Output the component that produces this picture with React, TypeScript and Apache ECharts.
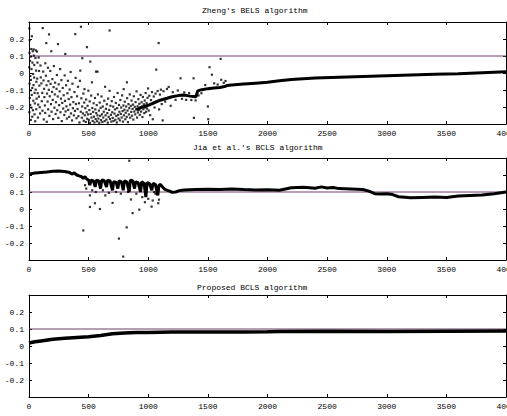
import React, { useEffect, useRef } from "react";
import * as echarts from "echarts";

const xTicks = [0, 500, 1000, 1500, 2000, 2500, 3000, 3500, 4000];
const yTickLabels = ["-0.2", "-0.1", "0", "0.1", "0.2"];
const titles = ["Zheng's BELS algorithm", "Jia et al.'s BCLS algorithm", "Proposed BCLS algorithm"];
const refLevel = 0.1;

// Panel 1: Zheng's BELS scattered estimates
const zhengScatter: number[][] = [
  [3,0.262],[6,0.193],[4,0.118],[9,0.071],[2,0.034],[11,-0.018],[5,-0.063],[13,-0.102],[7,-0.147],[10,-0.188],[3,-0.231],[15,-0.276],[19,0.141],[17,0.097],[21,0.023],[16,-0.041],[23,-0.129],[20,-0.204],[27,-0.257],[24,0.216],[31,0.128],[29,0.061],[34,-0.006],[28,-0.088],[36,-0.163],[33,-0.219],[41,0.102],[39,0.139],[44,0.047],[43,-0.027],[47,-0.117],[38,-0.071],[49,-0.179],[46,-0.243],[52,-0.284],[57,0.133],[54,0.088],[59,0.014],[62,-0.052],[56,-0.098],[64,-0.151],[61,-0.213],[67,0.126],[71,0.061],[69,-0.033],[73,-0.119],[77,-0.186],[75,-0.262],[81,0.091],[84,0.012],[87,-0.074],[83,-0.139],[90,-0.201],[93,-0.238],[96,0.044],[99,-0.026],
  [104,-0.061],[107,-0.166],[111,-0.117],[115,0.264],[113,-0.222],[119,0.008],[122,-0.044],[126,-0.093],[124,-0.273],[129,-0.142],[133,-0.191],[137,0.057],[136,-0.235],[142,-0.016],[145,0.176],[147,-0.072],[151,-0.121],[149,-0.287],[156,-0.168],[159,0.031],[163,-0.048],[161,-0.214],[168,0.227],[166,-0.099],[171,-0.252],[174,-0.137],[178,0.012],[181,-0.064],[184,-0.183],[187,0.128],[189,-0.228],[193,-0.111],[196,-0.036],[199,-0.158],[202,-0.271],[206,-0.083],[209,0.041],[213,-0.204],[216,-0.126],[219,-0.057],[223,-0.241],[226,-0.172],[231,-0.093],[234,-0.012],[237,-0.219],[243,0.17],[241,-0.138],[246,-0.264],[249,-0.067],
  [253,-0.189],[257,-0.108],[261,0.023],[264,-0.231],[268,-0.151],[272,-0.042],[275,-0.283],[279,-0.176],[283,-0.088],[287,-0.209],[291,-0.131],[296,-0.247],[299,-0.014],[304,0.112],[302,-0.164],[307,-0.226],[311,-0.072],[314,-0.196],[318,-0.268],[322,-0.119],[326,-0.046],[329,-0.217],[333,-0.153],[337,-0.258],[341,-0.097],[345,-0.186],[349,0.006],[352,-0.238],[356,-0.142],[361,-0.279],[364,-0.063],[368,-0.207],[372,-0.171],[376,-0.249],[381,-0.112],[388,0.229],[385,-0.223],[391,-0.029],[394,-0.183],[398,-0.266],[403,-0.137],[407,-0.212],[411,-0.081],[414,-0.254],[419,-0.178],[423,-0.291],[427,-0.046],[430,0.014],[436,0.272],[434,-0.228],[439,-0.149],[443,-0.263],[447,0.087],[446,-0.197],
  [452,-0.238],[456,-0.121],[459,-0.281],[463,-0.174],[465,-0.095],[468,-0.249],[472,-0.207],[476,-0.288],[479,-0.156],[483,-0.231],[486,0.152],[488,-0.269],[491,-0.193],[495,-0.244],[498,-0.104],[502,-0.276],[506,-0.218],[509,-0.167],[514,0.067],[512,-0.293],[517,-0.241],[521,-0.133],[524,-0.262],[528,-0.055],[531,-0.206],[534,-0.282],[538,-0.229],[542,-0.178],[545,-0.257],[549,-0.291],[553,-0.147],[556,-0.214],[562,0.008],[559,-0.271],[564,-0.236],[568,-0.189],[571,-0.284],[575,0.008],[574,-0.249],[578,-0.126],[582,-0.268],[586,-0.221],[589,-0.293],[593,-0.174],[597,-0.252],[601,-0.205],[604,-0.277],[608,-0.138],[612,-0.243],[615,-0.289],[619,-0.197],[623,-0.262],[627,-0.228],[631,-0.163],[634,-0.283],[638,-0.081],[642,-0.249],[645,-0.211],[649,-0.274],[653,-0.184],[657,-0.236],[661,-0.292],[664,-0.151],[668,-0.258],[676,0.25],[672,-0.217],[676,-0.105],[679,-0.271],[683,-0.193],[687,-0.246],[691,-0.286],[694,-0.166],[698,-0.231],
  [702,-0.264],[706,-0.198],[709,-0.282],[713,-0.141],[717,-0.239],[721,-0.214],[724,-0.275],[728,-0.176],[732,-0.253],[736,-0.291],[739,-0.207],[743,-0.118],[747,-0.246],[751,-0.268],[755,-0.188],[758,-0.228],[762,-0.279],[766,-0.159],[770,-0.241],[773,-0.203],[777,-0.262],[781,-0.132],[785,-0.224],[788,-0.286],[794,-0.095],[792,-0.191],[796,-0.249],[800,-0.216],[803,-0.169],[807,-0.272],[811,-0.234],[815,-0.197],[821,-0.055],[819,-0.258],[823,-0.148],[826,-0.221],[830,-0.289],[834,-0.183],[838,-0.244],[841,-0.207],[845,-0.126],[849,-0.263],[853,-0.193],[857,-0.229],[860,-0.162],[864,-0.251],[868,-0.211],[872,-0.186],[875,-0.274],[879,-0.137],[883,-0.227],[887,-0.199],[891,-0.243],[894,-0.171],[898,-0.214],[902,-0.108],[906,-0.262],[910,-0.196],[913,-0.232],[917,-0.154],[921,-0.218],[925,-0.181],[929,-0.246],[932,-0.206],[936,-0.129],[940,-0.227],[944,-0.172],[948,-0.199],[951,-0.259],[955,-0.141],[959,-0.213],[963,-0.184],[967,-0.236],[970,-0.162],[974,-0.203],[978,-0.118],[982,-0.228],[986,-0.177],[990,-0.209],[994,-0.146],[998,-0.091],
  [1004,-0.221],[1009,-0.134],[1016,-0.248],[1023,-0.159],[1031,-0.112],[1038,-0.272],[1046,-0.138],[1053,-0.203],[1061,-0.121],[1067,0.02],[1072,-0.166],[1079,-0.106],[1087,0.176],[1091,-0.214],[1098,-0.127],[1106,-0.098],[1113,-0.183],[1121,-0.279],[1128,-0.107],[1142,-0.168],[1157,-0.094],[1171,-0.082],[1188,-0.193],[1206,-0.113],[1229,-0.158],[1248,-0.103],[1271,-0.031],[1283,-0.152],[1302,-0.114],[1318,-0.158],[1343,-0.118],[1361,-0.159],[1380,-0.031],[1383,-0.264],[1397,-0.161],[1422,-0.132],[1446,-0.119],[1478,-0.071],[1500,-0.197],[1503,-0.272],[1514,0.034],[1534,-0.01],[1553,-0.061],[1582,-0.068],[1607,0.083],[1612,-0.04],[1633,-0.058],[1648,-0.047]
];
// Panel 1: converged track
const zhengTrack: number[][] = [
  [900,-0.215],[950,-0.2],[1000,-0.19],[1050,-0.175],[1100,-0.16],[1150,-0.15],[1200,-0.14],[1250,-0.133],[1300,-0.13],[1350,-0.136],[1400,-0.14],[1415,-0.105],[1450,-0.098],[1500,-0.092],[1550,-0.088],[1600,-0.085],[1640,-0.08],[1660,-0.074],[1700,-0.07],[1800,-0.065],[1900,-0.06],[2000,-0.055],[2100,-0.046],[2200,-0.038],[2300,-0.034],[2400,-0.03],[2600,-0.025],[2800,-0.02],[3000,-0.016],[3200,-0.012],[3400,-0.008],[3600,-0.004],[3800,0.002],[4000,0.008]
];

// Panel 2: Jia et al.'s BCLS
const jiaTrack: number[][] = [
  [0,0.205],[50,0.212],[100,0.215],[150,0.218],[200,0.222],[250,0.224],[300,0.22],[340,0.215],[360,0.205],[380,0.212],[400,0.2],[420,0.195],[440,0.19],[455,0.18],[470,0.19],[485,0.175],[500,0.17],[510,0.14],[520,0.17],[540,0.165],[555,0.13],[565,0.17],[585,0.165],[600,0.12],[610,0.17],[630,0.168],[650,0.13],[660,0.17],[680,0.165],[700,0.11],[710,0.16],[730,0.158],[745,0.12],[755,0.165],[775,0.16],[790,0.11],[800,0.165],[820,0.16],[840,0.1],[850,0.17],[870,0.165],[885,0.12],[895,0.16],[915,0.155],[935,0.1],[945,0.16],[965,0.15],[980,0.07],[990,0.155],[1010,0.15],[1030,0.11],[1040,0.15],[1060,0.145],[1080,0.08],[1090,0.14],[1100,0.145],[1120,0.13],[1140,0.115],[1160,0.11],[1180,0.105],[1200,0.098],[1230,0.1],[1260,0.108],[1300,0.112],[1400,0.114],[1500,0.116],[1600,0.115],[1700,0.117],[1800,0.114],[1900,0.112],[2000,0.113],[2100,0.11],[2200,0.125],[2300,0.128],[2400,0.122],[2450,0.13],[2500,0.123],[2550,0.127],[2600,0.12],[2700,0.118],[2800,0.115],[2850,0.105],[2900,0.09],[2950,0.088],[3000,0.09],[3050,0.085],[3100,0.072],[3200,0.066],[3300,0.068],[3400,0.07],[3500,0.068],[3600,0.076],[3700,0.08],[3800,0.082],[3900,0.09],[4000,0.1]
];
const jiaScatter: number[][] = [
  [455,-0.126],[511,0.012],[553,0.034],[595,0.0],[640,0.08],[701,0.036],[754,-0.174],[790,-0.28],[819,-0.108],[841,0.284],[855,0.056],[869,-0.024],[925,-0.004],[972,0.04],[1028,0.014],[1037,0.05],[1084,0.034],[511,0.08],[470,0.14],[480,0.12],[530,0.11],[560,0.1],[620,0.11],[670,0.095],[730,0.1],[770,0.09],[830,0.1],[900,0.09],[950,0.07],[1000,0.06],[1060,0.09],[1090,0.055],[1050,0.1]
];

// Panel 3: Proposed BCLS
const proposedTrack: number[][] = [
  [0,0.018],[50,0.025],[100,0.03],[200,0.04],[300,0.045],[400,0.05],[500,0.055],[600,0.062],[700,0.072],[800,0.077],[900,0.079],[1000,0.08],[1200,0.082],[1500,0.083],[1800,0.083],[2000,0.084],[2100,0.086],[2500,0.087],[3000,0.086],[3500,0.087],[4000,0.088]
];

const FONT = "'Liberation Mono', 'DejaVu Sans Mono', monospace";
const REF_COLOR = "#6a3f62";

export default function App() {
  const ref = useRef<HTMLDivElement>(null);
  useEffect(() => {
    if (!ref.current) return;
    const chart = echarts.init(ref.current, null, { renderer: "svg" });
    const grids = [
      { left: 29, right: 1, top: 22, height: 102, containLabel: false, outerBoundsMode: "none" },
      { left: 29, right: 1, top: 158, height: 102, containLabel: false, outerBoundsMode: "none" },
      { left: 29, right: 1, top: 295, height: 102, containLabel: false, outerBoundsMode: "none" },
    ];
    const titleX = [202, 193, 197];
    const titleY = [10, 147, 287];
    const axisLine = { show: true, onZero: false, lineStyle: { color: "#000", width: 1 } };
    const xAxes: any[] = [];
    const yAxes: any[] = [];
    grids.forEach((_, i) => {
      xAxes.push({
        type: "value", gridIndex: i, position: "bottom", min: xTicks[0], max: xTicks[xTicks.length - 1], interval: 500,
        axisLine, axisTick: { show: true, inside: true, length: 3, lineStyle: { color: "#000" } },
        axisLabel: { show: true, color: "#000", fontFamily: FONT, fontSize: 8, margin: 5, showMaxLabel: true, formatter: (v: number) => String(v) },
        splitLine: { show: false },
      });
      xAxes.push({
        type: "value", gridIndex: i, position: "top", min: xTicks[0], max: xTicks[xTicks.length - 1], interval: 500,
        axisLine, axisTick: { show: true, inside: true, length: 3, lineStyle: { color: "#000" } },
        axisLabel: { show: false }, splitLine: { show: false },
      });
      const yl = (v: number) => {
        const s = yTickLabels.find((t) => Math.abs(parseFloat(t) - v) < 1e-6);
        return s ?? "";
      };
      yAxes.push({
        type: "value", gridIndex: i, position: "left", min: -0.3, max: 0.3, interval: 0.1,
        axisLine, axisTick: { show: true, inside: true, length: 3, lineStyle: { color: "#000" } },
        axisLabel: { show: true, color: "#000", fontFamily: FONT, fontSize: 8, margin: 5, formatter: yl },
        splitLine: { show: false },
      });
      yAxes.push({
        type: "value", gridIndex: i, position: "right", min: -0.3, max: 0.3, interval: 0.1,
        axisLine, axisTick: { show: true, inside: true, length: 3, lineStyle: { color: "#000" } },
        axisLabel: { show: false }, splitLine: { show: false },
      });
    });
    const refLine = (i: number) => ({
      type: "line", xAxisIndex: i * 2, yAxisIndex: i * 2, data: [[0, refLevel], [4000, refLevel]],
      showSymbol: false, lineStyle: { color: REF_COLOR, width: 1 }, z: 1,
    });
    const track = (i: number, data: number[][], w: number) => ({
      type: "line", xAxisIndex: i * 2, yAxisIndex: i * 2, data, showSymbol: false,
      lineStyle: { color: "#000", width: w }, z: 3,
    });
    const dots = (i: number, data: number[][]) => ({
      type: "scatter", xAxisIndex: i * 2, yAxisIndex: i * 2, data, symbol: "rect", symbolSize: 2.2,
      itemStyle: { color: "#000" }, z: 4,
    });
    chart.setOption({
      animation: false,
      backgroundColor: "#fff",
      grid: grids,
      xAxis: xAxes,
      yAxis: yAxes,
      graphic: titles.map((t, i) => ({
        type: "text", x: titleX[i], y: titleY[i],
        style: { text: t, font: `8px ${FONT}`, fill: "#000", textVerticalAlign: "middle" },
      })),
      series: [
        refLine(0), dots(0, zhengScatter), track(0, zhengTrack, 3),
        refLine(1), track(1, jiaTrack, 3), dots(1, jiaScatter),
        refLine(2), track(2, proposedTrack, 3.5),
      ],
    });
    return () => chart.dispose();
  }, []);
  return <div ref={ref} style={{ position: "fixed", left: 0, top: 0, width: 507, height: 416 }} />;
}
